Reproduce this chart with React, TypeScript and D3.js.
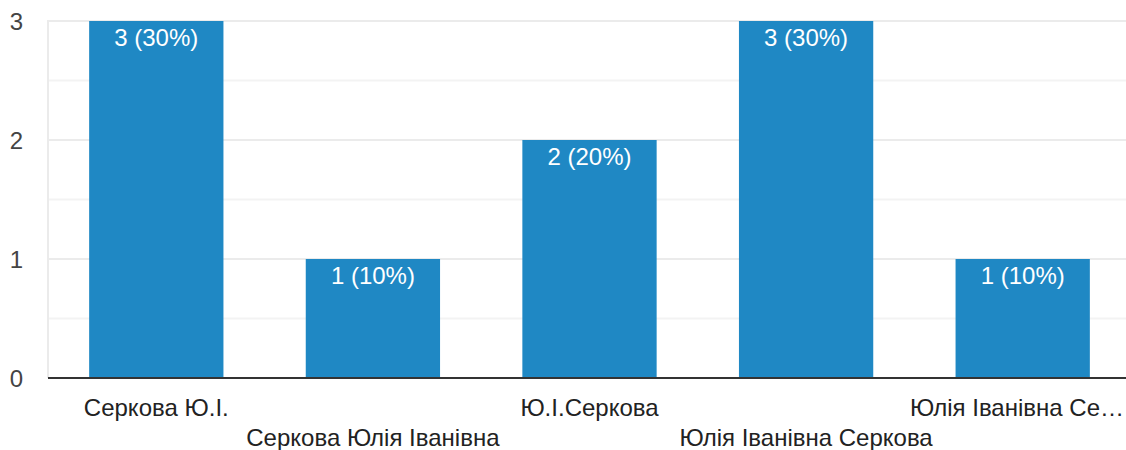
import React from "react";
import * as d3 from "d3";

const categories = ["Серкова Ю.І.", "Серкова Юлія Іванівна", "Ю.І.Серкова", "Юлія Іванівна Серкова", "Юлія Іванівна Се…"];
const values = [3, 1, 2, 3, 1];
const valueLabels = ["3 (30%)", "1 (10%)", "2 (20%)", "3 (30%)", "1 (10%)"];
const yTicks = [0, 1, 2, 3];
const yMinor = [0.5, 1.5, 2.5];

const W = 1126;
const H = 450;
const left = 48;
const right = 1131;
const top = 21;
const bottom = 378;
const font = "Arial, 'Liberation Sans', sans-serif";

export default function App() {
  const x = d3.scaleBand<string>().domain(categories).range([left, right]).paddingInner(0.38).paddingOuter(0.19);
  const y = d3.scaleLinear().domain([0, 3]).range([bottom, top]);
  const last = categories.length - 1;
  return (
    <svg width={W} height={H} style={{ position: "absolute", left: 0, top: 0 }}>
      <rect x={0} y={0} width={W} height={H} fill="#fff" />
      {yMinor.map((t) => (
        <line key={"m" + t} x1={left} x2={W} y1={y(t)} y2={y(t)} stroke="#f3f3f3" strokeWidth={2} />
      ))}
      {yTicks.map((t) => (
        <line key={"g" + t} x1={left} x2={W} y1={y(t)} y2={y(t)} stroke="#ebebeb" strokeWidth={2} />
      ))}
      <line x1={left} x2={left} y1={top - 1} y2={bottom} stroke="#ebebeb" strokeWidth={2} />
      {yTicks.map((t) => (
        <text key={"t" + t} x={23} y={y(t) + 9} textAnchor="end" fontSize={24} fontFamily={font} fill="#444">
          {t}
        </text>
      ))}
      {categories.map((c, i) => (
        <g key={c}>
          <rect x={x(c)} y={y(values[i])} width={x.bandwidth()} height={y(0) - y(values[i])} fill="#1f88c4" />
          <text x={(x(c) as number) + x.bandwidth() / 2} y={y(values[i]) + 25} textAnchor="middle" fontSize={24} fontFamily={font} fill="#fff">
            {valueLabels[i]}
          </text>
          <text
            x={i === last ? W - 2 : (x(c) as number) + x.bandwidth() / 2}
            y={i % 2 === 0 ? 416 : 446}
            textAnchor={i === last ? "end" : "middle"}
            fontSize={24}
            fontFamily={font}
            fill="#222"
          >
            {c}
          </text>
        </g>
      ))}
      <line x1={left} x2={W} y1={bottom} y2={bottom} stroke="#333" strokeWidth={2} />
    </svg>
  );
}
